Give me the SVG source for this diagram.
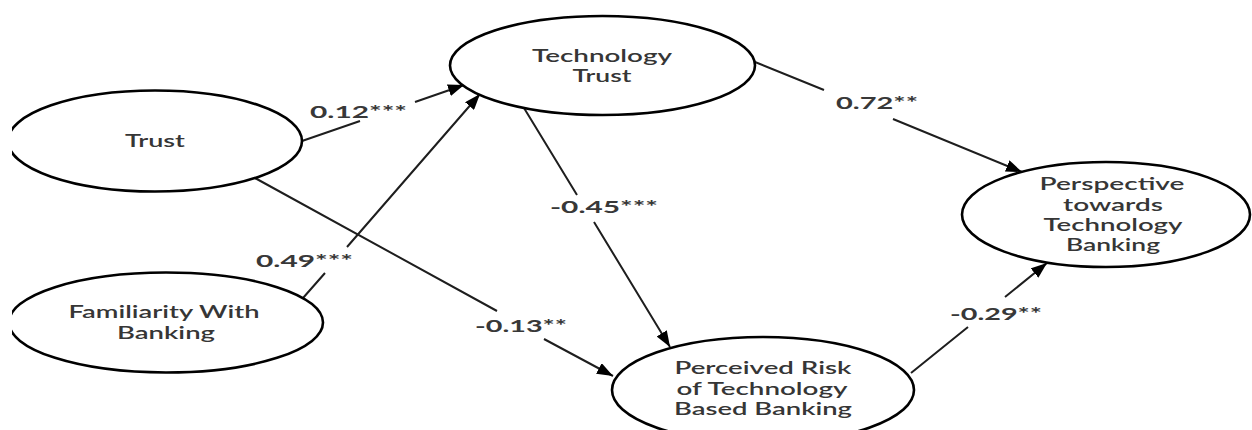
<svg xmlns="http://www.w3.org/2000/svg" width="1252" height="430" viewBox="0 0 1252 430">
  <style>
    .node { fill: #ffffff; stroke: #000000; stroke-width: 2.6; }
    .lbl { font-family: Lato, "Liberation Sans", sans-serif; font-size: 17px; font-weight: 600; fill: #363636; text-anchor: middle; }
    .coef { font-family: Lato, "Liberation Sans", sans-serif; font-size: 17px; font-weight: 700; fill: #383838; }
    .edge { fill: none; stroke: #1e1e1e; stroke-width: 2; marker-end: url(#arrow); }
  </style>
  <defs>
    <marker id="arrow" markerUnits="userSpaceOnUse" markerWidth="17" markerHeight="12" refX="16" refY="6" orient="auto">
      <path d="M0,0 L16,6 L0,12 z" fill="#000000"/>
    </marker>
    <clipPath id="page">
      <rect x="12" y="0" width="1240" height="430"/>
    </clipPath>
  </defs>
  <rect width="1252" height="430" fill="#ffffff"/>

  <g clip-path="url(#page)">
    <!-- connectors, broken where the coefficient labels sit -->
    <g id="connectors">
      <path class="edge" d="M302,141 L360,121 M415,102 L464,85"/>
      <path class="edge" d="M303,298 L325,273 M347,247 L480,94"/>
      <path class="edge" d="M255,178 L497,311 M544,339 L613,376"/>
      <path class="edge" d="M524,108 L577,195 M594,222 L670,347"/>
      <path class="edge" d="M755,62 L824,90 M893,119 L1022,172"/>
      <path class="edge" d="M911,373 L968,327 M1005,297 L1047,263"/>

      <text class="coef" x="310" y="118" textLength="97" lengthAdjust="spacingAndGlyphs">0.12***</text>
      <text class="coef" x="256" y="267" textLength="97" lengthAdjust="spacingAndGlyphs">0.49***</text>
      <text class="coef" x="550" y="213" textLength="108" lengthAdjust="spacingAndGlyphs">-0.45***</text>
      <text class="coef" x="475" y="332" textLength="92" lengthAdjust="spacingAndGlyphs">-0.13**</text>
      <text class="coef" x="836" y="109" textLength="82" lengthAdjust="spacingAndGlyphs">0.72**</text>
      <text class="coef" x="950" y="320" textLength="92" lengthAdjust="spacingAndGlyphs">-0.29**</text>
    </g>

    <g id="trust">
      <ellipse class="node" cx="155" cy="141" rx="147" ry="50.5"/>
      <text class="lbl" x="155" y="147" textLength="60" lengthAdjust="spacingAndGlyphs">Trust</text>
    </g>

    <g id="familiarity">
      <ellipse class="node" cx="166" cy="322.5" rx="157" ry="50"/>
      <text class="lbl" x="164" y="318" textLength="191" lengthAdjust="spacingAndGlyphs">Familiarity With</text>
      <text class="lbl" x="166" y="339" textLength="98" lengthAdjust="spacingAndGlyphs">Banking</text>
    </g>

    <g id="technology-trust">
      <ellipse class="node" cx="602.5" cy="65.5" rx="152.5" ry="49.5"/>
      <text class="lbl" x="602" y="62" textLength="140" lengthAdjust="spacingAndGlyphs">Technology</text>
      <text class="lbl" x="602" y="82" textLength="59" lengthAdjust="spacingAndGlyphs">Trust</text>
    </g>

    <g id="perceived-risk">
      <ellipse class="node" cx="763" cy="390" rx="151" ry="53"/>
      <text class="lbl" x="763" y="374" textLength="177" lengthAdjust="spacingAndGlyphs">Perceived Risk</text>
      <text class="lbl" x="762" y="395" textLength="171" lengthAdjust="spacingAndGlyphs">of Technology</text>
      <text class="lbl" x="763" y="415" textLength="178" lengthAdjust="spacingAndGlyphs">Based Banking</text>
    </g>

    <g id="perspective">
      <ellipse class="node" cx="1106" cy="214.5" rx="144" ry="52.5"/>
      <text class="lbl" x="1112" y="190" textLength="145" lengthAdjust="spacingAndGlyphs">Perspective</text>
      <text class="lbl" x="1113" y="211" textLength="100" lengthAdjust="spacingAndGlyphs">towards</text>
      <text class="lbl" x="1113" y="231" textLength="139" lengthAdjust="spacingAndGlyphs">Technology</text>
      <text class="lbl" x="1113" y="251" textLength="94" lengthAdjust="spacingAndGlyphs">Banking</text>
    </g>
  </g>
</svg>
